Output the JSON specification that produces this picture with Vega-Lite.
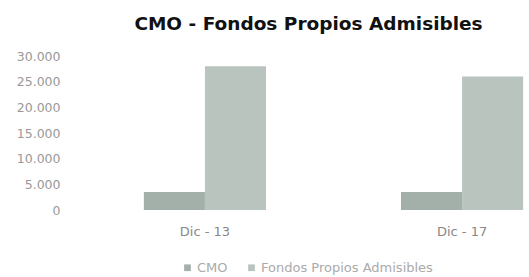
{
  "$schema": "https://vega.github.io/schema/vega-lite/v6.json",
  "autosize": {"type": "none"},
  "width": 513,
  "height": 154,
  "padding": {"left": 77, "top": 56, "right": 0, "bottom": 67},
  "background": "white",
  "title": {
    "text": "CMO - Fondos Propios Admisibles",
    "font": "DejaVu Sans",
    "fontSize": 18.5,
    "fontWeight": "bold",
    "color": "#111111",
    "anchor": "middle",
    "dx": -25,
    "offset": 17
  },
  "data": {
    "values": [
      {"periodo": "Dic - 13", "serie": "CMO", "valor": 3500},
      {"periodo": "Dic - 13", "serie": "Fondos Propios Admisibles", "valor": 28000},
      {"periodo": "Dic - 17", "serie": "CMO", "valor": 3500},
      {"periodo": "Dic - 17", "serie": "Fondos Propios Admisibles", "valor": 26000}
    ]
  },
  "mark": {"type": "bar"},
  "encoding": {
    "x": {
      "field": "periodo",
      "type": "nominal",
      "scale": {"paddingInner": 0.525, "paddingOuter": 0.26},
      "axis": {
        "title": null,
        "labelAngle": 0,
        "domain": false,
        "ticks": false,
        "labelPadding": 15,
        "labelFont": "DejaVu Sans",
        "labelFontSize": 13,
        "labelColor": "#888888"
      }
    },
    "xOffset": {"field": "serie", "type": "nominal", "scale": {"paddingInner": 0}},
    "y": {
      "field": "valor",
      "type": "quantitative",
      "scale": {"domain": [0, 30000], "nice": false},
      "axis": {
        "title": null,
        "values": [0, 5000, 10000, 15000, 20000, 25000, 30000],
        "labelExpr": "replace(format(datum.value, ','), ',', '.')",
        "domain": false,
        "ticks": false,
        "grid": false,
        "labelPadding": 17,
        "labelFont": "DejaVu Sans",
        "labelFontSize": 12.5,
        "labelColor": "#999999"
      }
    },
    "color": {
      "field": "serie",
      "type": "nominal",
      "scale": {"domain": ["CMO", "Fondos Propios Admisibles"], "range": ["#a3afa9", "#b8c4bd"]},
      "legend": {
        "title": null,
        "orient": "none",
        "legendX": 104,
        "legendY": 205,
        "direction": "horizontal",
        "symbolType": "square",
        "symbolSize": 45,
        "symbolOpacity": 1,
        "symbolStrokeWidth": 0,
        "labelFont": "DejaVu Sans",
        "labelFontSize": 13,
        "labelColor": "#aaaaaa",
        "labelOffset": 3,
        "labelLimit": 300,
        "columnPadding": 17
      }
    }
  },
  "config": {"view": {"stroke": null}}
}
